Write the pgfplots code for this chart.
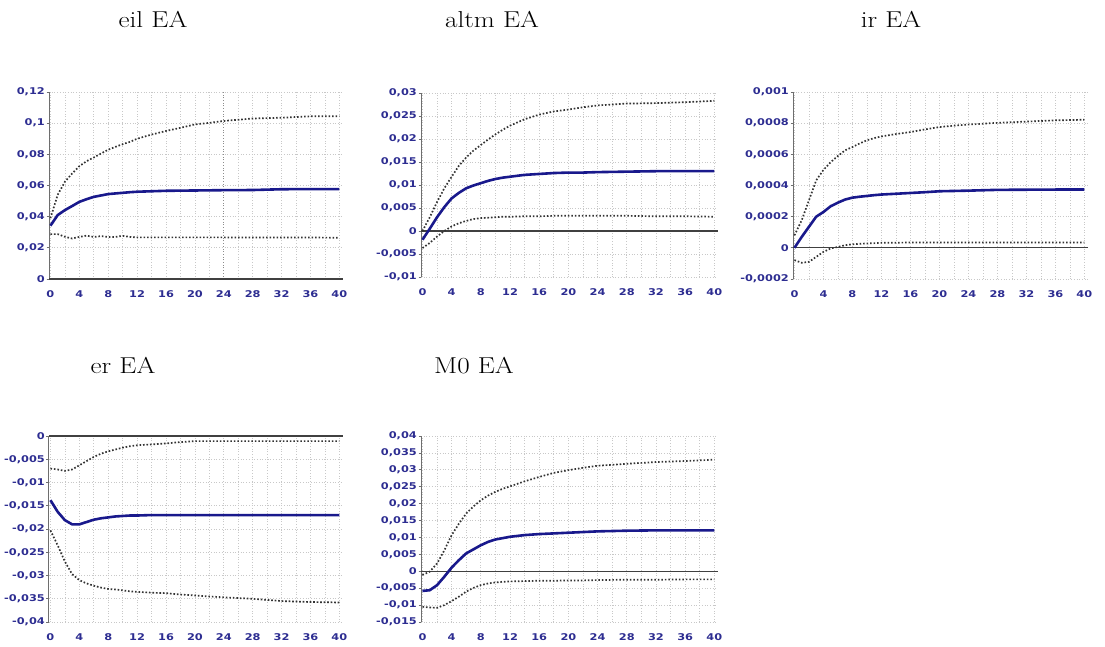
\documentclass[border=0pt]{standalone}
\usepackage{pgfplots}
\pgfplotsset{compat=1.18}
\usepackage{pgfplotstable}
\usepackage{fontspec}
\newfontfamily\tickfont[FakeStretch=1.22]{DejaVu Sans}
\definecolor{tickblue}{RGB}{45,45,145}
\definecolor{linblue}{RGB}{25,25,140}
\definecolor{gridgray}{RGB}{200,200,200}
\definecolor{axisgray}{RGB}{110,110,110}

\pgfplotstableread{
t mid lo hi
0 0.0342 0.0288 0.0390
1 0.0410 0.0288 0.0540
2 0.0442 0.0271 0.0624
3 0.0468 0.0260 0.0677
4 0.0495 0.0270 0.0724
5 0.0512 0.0278 0.0756
6 0.0527 0.0270 0.0780
7 0.0536 0.0275 0.0805
8 0.0545 0.0270 0.0830
9 0.0549 0.0270 0.0848
10 0.0553 0.0277 0.0865
11 0.0557 0.0270 0.0880
12 0.0560 0.0267 0.0900
14 0.0563 0.0267 0.0927
16 0.0566 0.0267 0.0950
18 0.0567 0.0267 0.0970
20 0.0568 0.0267 0.0992
22 0.0569 0.0267 0.1002
24 0.0570 0.0267 0.1014
28 0.0571 0.0266 0.1030
32 0.0576 0.0266 0.1035
36 0.0577 0.0266 0.1044
40 0.0577 0.0265 0.1044
}\tabeil

\pgfplotstableread{
t mid lo hi
0 -0.0019 -0.0037 0.0000
1 0.0005 -0.0026 0.0030
2 0.0030 -0.0012 0.0063
3 0.0052 0.0000 0.0093
4 0.0071 0.0010 0.0118
5 0.0083 0.0017 0.0142
6 0.0093 0.0022 0.0160
7 0.0099 0.0026 0.0175
8 0.0104 0.0028 0.0187
9 0.0109 0.0029 0.0199
10 0.0113 0.0030 0.0210
11 0.0116 0.0031 0.0220
12 0.0118 0.0031 0.0229
14 0.0122 0.0032 0.0243
16 0.0124 0.0032 0.0253
18 0.0126 0.0033 0.0260
20 0.0127 0.0033 0.0264
22 0.0127 0.0033 0.0269
24 0.0128 0.0033 0.0273
28 0.0129 0.0033 0.0277
32 0.0130 0.0032 0.0278
36 0.0130 0.0032 0.0280
40 0.0130 0.0031 0.0283
}\tabaltm

\pgfplotstableread{
t mid lo hi
0 0.0 -0.000079 0.00008
1 0.00007 -0.000096 0.000177
2 0.000135 -0.00009 0.000305
3 0.0002 -0.000058 0.000433
4 0.00023 -0.000026 0.0005
5 0.000267 -0.000004 0.00055
6 0.00029 0.000006 0.00059
7 0.00031 0.000017 0.000626
8 0.000322 0.000023 0.000647
9 0.000328 0.000026 0.00067
10 0.000333 0.000028 0.00069
11 0.000338 0.00003 0.000704
12 0.000342 0.000032 0.000715
14 0.000347 0.000033 0.00073
16 0.000352 0.000034 0.000743
18 0.000357 0.000034 0.00076
20 0.000363 0.000034 0.000775
22 0.000365 0.000034 0.000784
24 0.000367 0.000034 0.000791
28 0.000372 0.000034 0.000802
32 0.000373 0.000034 0.00081
36 0.000374 0.000034 0.000818
40 0.000374 0.000034 0.000822
}\tabir

\pgfplotstableread{
t mid lo hi
0 -0.0138 -0.0203 -0.0070
1 -0.0163 -0.0235 -0.0072
2 -0.0181 -0.0270 -0.0075
3 -0.0190 -0.0297 -0.0072
4 -0.0190 -0.0310 -0.0063
5 -0.0185 -0.0317 -0.0054
6 -0.0180 -0.0322 -0.0045
7 -0.0177 -0.0326 -0.0038
8 -0.0175 -0.0329 -0.0033
9 -0.0173 -0.0330 -0.0029
10 -0.0172 -0.0332 -0.0025
11 -0.0171 -0.0334 -0.0022
12 -0.0171 -0.0335 -0.0020
14 -0.0170 -0.0337 -0.0018
16 -0.0170 -0.0338 -0.0016
18 -0.0170 -0.0341 -0.0013
20 -0.0170 -0.0343 -0.0011
22 -0.0170 -0.0345 -0.0011
24 -0.0170 -0.0347 -0.0011
28 -0.0170 -0.0350 -0.0011
32 -0.0170 -0.0355 -0.0011
36 -0.0170 -0.0357 -0.0011
40 -0.0170 -0.0358 -0.0011
}\tabER

\pgfplotstableread{
t mid lo hi
0 -0.0058 -0.0105 -0.0011
1 -0.0056 -0.0107 -0.0001
2 -0.0041 -0.0108 0.0023
3 -0.0016 -0.0100 0.0062
4 0.0011 -0.0088 0.0107
5 0.0033 -0.0075 0.0141
6 0.0053 -0.0060 0.0171
7 0.0065 -0.0049 0.0192
8 0.0077 -0.0041 0.0210
9 0.0087 -0.0036 0.0224
10 0.0094 -0.0033 0.0235
11 0.0098 -0.0031 0.0244
12 0.0102 -0.0030 0.0251
14 0.0107 -0.0029 0.0266
16 0.0110 -0.0028 0.0279
18 0.0112 -0.0028 0.0291
20 0.0114 -0.0027 0.0299
22 0.0116 -0.0027 0.0306
24 0.0118 -0.0026 0.0312
28 0.0120 -0.0025 0.0318
32 0.0121 -0.0025 0.0323
36 0.0121 -0.0024 0.0326
40 0.0121 -0.0024 0.0330
}\tabMO

\pgfplotsset{
  irf/.style={
    scale only axis, anchor=south west,
    xmin=-0.2, xmax=40.5,
    xtick={0,4,...,40}, minor xtick={2,6,...,38},
    xmajorgrids, xminorgrids, ymajorgrids,
    grid style={draw=gridgray, dotted, line width=0.7pt},
    major grid style={draw=gridgray, dotted, line width=0.7pt},
    minor grid style={draw=gridgray, dotted, line width=0.7pt},
    axis y line*=left, axis x line*=bottom,
    x axis line style={draw=none},
    y axis line style={-, draw=axisgray, line width=1pt},
    tick align=outside, major tick length=2.5pt, minor tick length=0pt,
    xtick style={draw=none},
    ytick style={draw=axisgray, line width=0.8pt},
    /pgf/number format/assume math mode=true,
    ticklabel style={font=\tickfont\bfseries\fontsize{9.3}{11}\selectfont, text=tickblue},
    yticklabel style={inner sep=1.5pt},
    xticklabel style={yshift=-6pt},
    scaled y ticks=false,
    extra y ticks={0}, extra y tick labels={},
    extra y tick style={grid=major, major grid style={draw=black!75, solid, line width=1.1pt}},
  },
  midline/.style={draw=linblue, line width=2.6pt, line join=round},
  bandline/.style={draw=black!80, line width=1.7pt, dash pattern=on 1.6pt off 1.9pt},
}
\newcommand{\ttltext}[1]{\scalebox{1.18}[1]{\fontsize{23}{27}\selectfont #1}}

\begin{document}
\begin{tikzpicture}[x=1pt, y=1pt]
\useasboundingbox (0,0) rectangle (1105,646);

% titles
\node[anchor=base] at (153,618) {\ttltext{eil EA}};
\node[anchor=base] at (492,618) {\ttltext{altm EA}};
\node[anchor=base] at (891,618) {\ttltext{ir EA}};
\node[anchor=base] at (123,273) {\ttltext{er EA}};
\node[anchor=base] at (474,273) {\ttltext{M0 EA}};

% eil EA
\begin{axis}[irf, at={(49pt,367pt)}, width=294pt, height=187pt,
  ymin=0, ymax=0.12,
  ytick={0,0.02,0.04,0.06,0.08,0.1,0.12},
  yticklabels={{0},{0,02},{0,04},{0,06},{0,08},{0,1},{0,12}},
  extra x ticks={24}, extra x tick labels={},
  extra x tick style={grid=major, major grid style={draw=gray!90, dotted, line width=0.8pt}}]
\addplot[bandline] table[x=t,y=hi]{\tabeil};
\addplot[bandline] table[x=t,y=lo]{\tabeil};
\addplot[midline] table[x=t,y=mid]{\tabeil};
\end{axis}

% altm EA
\begin{axis}[irf, at={(421pt,369pt)}, width=297pt, height=184pt,
  ymin=-0.01, ymax=0.03,
  ytick={-0.01,-0.005,0,0.005,0.01,0.015,0.02,0.025,0.03},
  yticklabels={{-0,01},{-0,005},{0},{0,005},{0,01},{0,015},{0,02},{0,025},{0,03}}]
\addplot[bandline] table[x=t,y=hi]{\tabaltm};
\addplot[bandline] table[x=t,y=lo]{\tabaltm};
\addplot[midline] table[x=t,y=mid]{\tabaltm};
\end{axis}

% ir EA
\begin{axis}[irf, at={(793pt,367pt)}, width=295pt, height=187pt,
  ymin=-0.0002, ymax=0.001,
  ytick={-0.0002,0,0.0002,0.0004,0.0006,0.0008,0.001},
  yticklabels={{-0,0002},{0},{0,0002},{0,0004},{0,0006},{0,0008},{0,001}}]
\addplot[bandline] table[x=t,y=hi]{\tabir};
\addplot[bandline] table[x=t,y=lo]{\tabir};
\addplot[midline] table[x=t,y=mid]{\tabir};
\end{axis}

% er EA
\begin{axis}[irf, at={(49pt,24pt)}, width=294pt, height=186pt,
  ymin=-0.04, ymax=0,
  ytick={-0.04,-0.035,-0.03,-0.025,-0.02,-0.015,-0.01,-0.005,0},
  yticklabels={{-0,04},{-0,035},{-0,03},{-0,025},{-0,02},{-0,015},{-0,01},{-0,005},{0}}]
\addplot[bandline] table[x=t,y=hi]{\tabER};
\addplot[bandline] table[x=t,y=lo]{\tabER};
\addplot[midline] table[x=t,y=mid]{\tabER};
\end{axis}

% M0 EA
\begin{axis}[irf, at={(421pt,24pt)}, width=297pt, height=186pt,
  ymin=-0.015, ymax=0.04,
  ytick={-0.015,-0.01,-0.005,0,0.005,0.01,0.015,0.02,0.025,0.03,0.035,0.04},
  yticklabels={{-0,015},{-0,01},{-0,005},{0},{0,005},{0,01},{0,015},{0,02},{0,025},{0,03},{0,035},{0,04}}]
\addplot[bandline] table[x=t,y=hi]{\tabMO};
\addplot[bandline] table[x=t,y=lo]{\tabMO};
\addplot[midline] table[x=t,y=mid]{\tabMO};
\end{axis}
\end{tikzpicture}
\end{document}
